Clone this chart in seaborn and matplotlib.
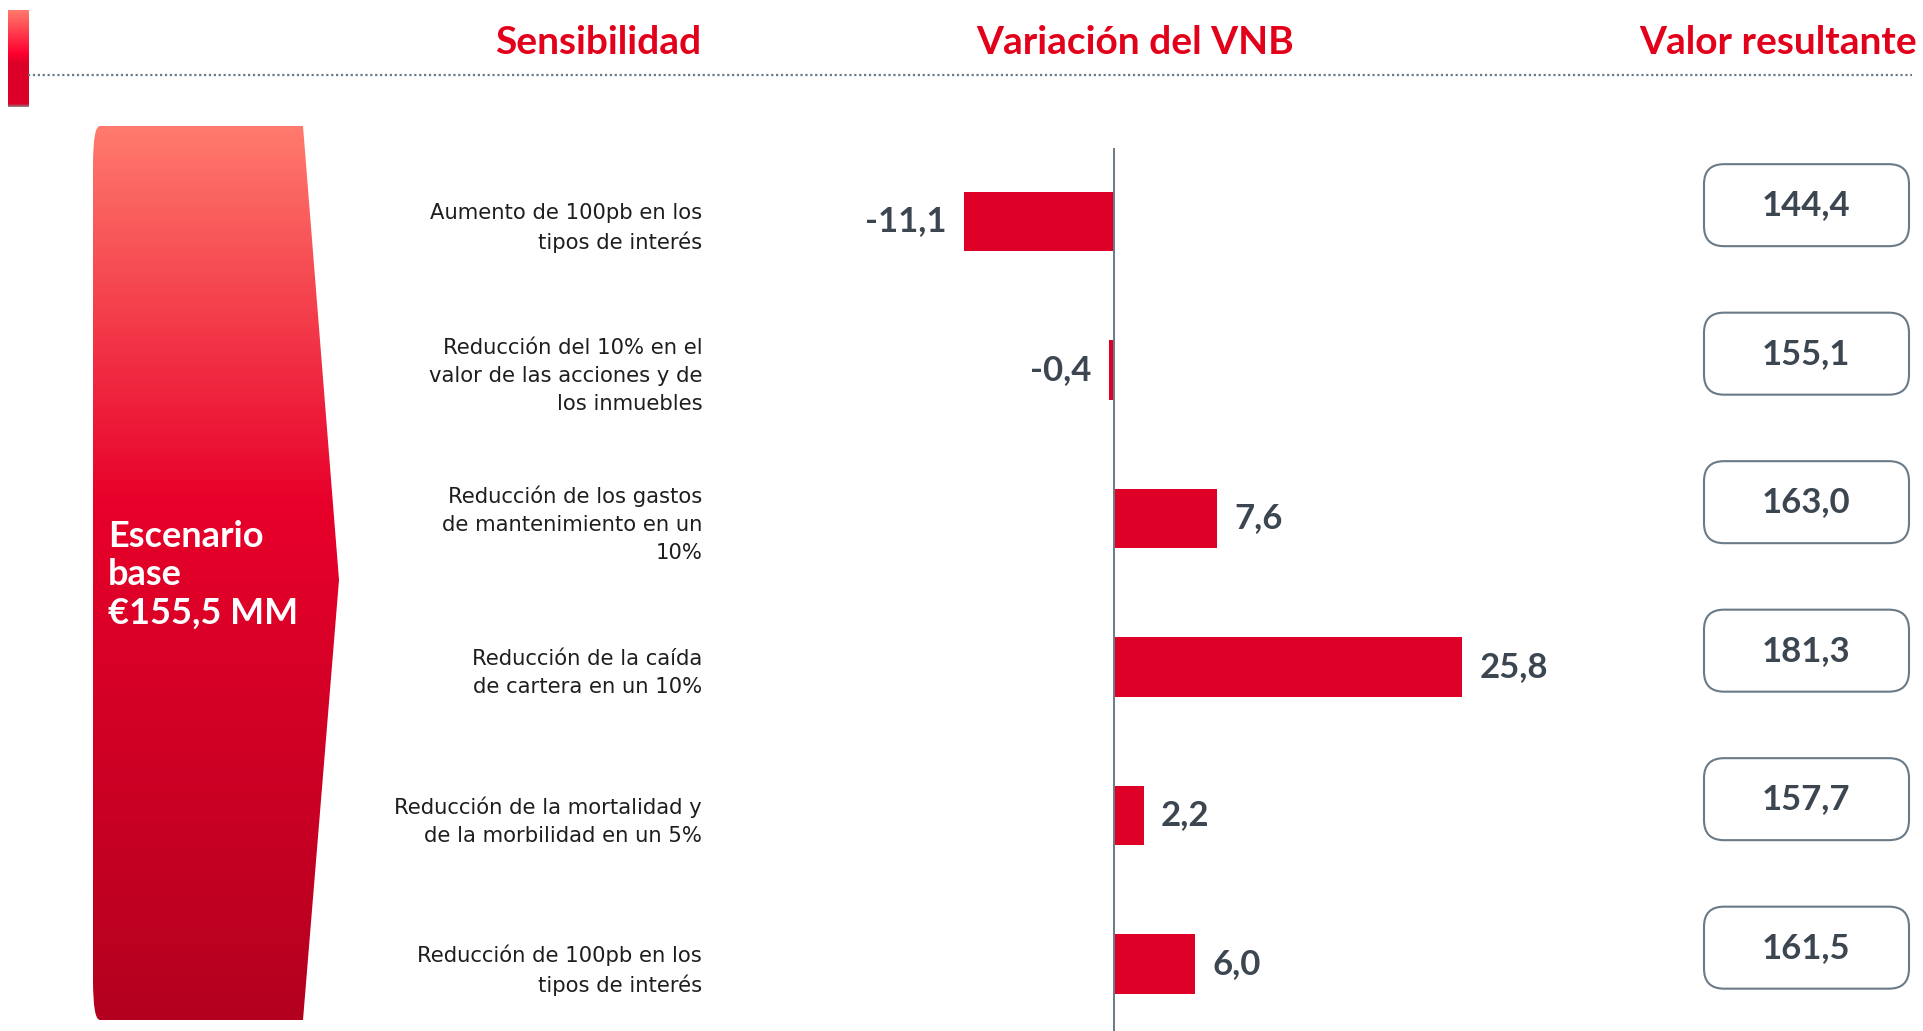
import matplotlib
matplotlib.use("Agg")
import numpy as np
import pandas as pd
import matplotlib.pyplot as plt
import seaborn as sns
from matplotlib.colors import LinearSegmentedColormap
from matplotlib.patches import FancyBboxPatch, PathPatch
from matplotlib.path import Path

# datos
categorias = [
    "Aumento de 100pb en los\ntipos de interés",
    "Reducción del 10% en el\nvalor de las acciones y de\nlos inmuebles",
    "Reducción de los gastos\nde mantenimiento en un\n10%",
    "Reducción de la caída\nde cartera en un 10%",
    "Reducción de la mortalidad y\nde la morbilidad en un 5%",
    "Reducción de 100pb en los\ntipos de interés",
]
variacion = [-11.1, -0.4, 7.6, 25.8, 2.2, 6.0]
valor_resultante = [144.4, 155.1, 163.0, 181.3, 157.7, 161.5]
escenario_base = 155.5
cabeceras = ["Sensibilidad", "Variación del VNB", "Valor resultante"]

df = pd.DataFrame({"cat": categorias, "var": variacion})

def fmt(v):
    return f"{v:.1f}".replace(".", ",")

sns.set_style("white")
plt.rcParams["font.family"] = ["DejaVu Sans"]

ROJO = "#E2001A"
BARRA = "#DE0026"
GRIS = "#3C4650"
LINEA = "#6A7A87"

W, H = 1923, 1031
fig = plt.figure(figsize=(W / 100, H / 100), dpi=100)

# capa de fondo en pixeles
bg = fig.add_axes([0, 0, 1, 1])
bg.set_axis_off()
bg.set_zorder(0)

cmap = LinearSegmentedColormap.from_list(
    "rojo", [(0, "#FF7A6C"), (0.42, "#E8002A"), (1, "#B4001F")])
grad = np.linspace(0, 1, 256).reshape(-1, 1)

# flecha grande "Escenario base"
verts = [(100, 126), (303, 126), (339, 580), (303, 1020), (100, 1020),
         (93, 1020), (93, 980), (93, 165), (93, 126), (100, 126)]
codes = [Path.MOVETO, Path.LINETO, Path.LINETO, Path.LINETO, Path.LINETO,
         Path.CURVE3, Path.CURVE3, Path.LINETO, Path.CURVE3, Path.CURVE3]
shape = PathPatch(Path(verts, codes), facecolor="none", edgecolor="none",
                  transform=bg.transData)
bg.add_patch(shape)
im = bg.imshow(grad, cmap=cmap, extent=[90, 342, 1020, 126], aspect="auto",
               origin="upper", interpolation="bilinear")
im.set_clip_path(shape)

# barrita superior izquierda
cmap2 = LinearSegmentedColormap.from_list(
    "rojo2", [(0, "#FF7A6C"), (0.45, "#FF0030"), (0.55, "#DC0028"),
              (0.97, "#DC0028"), (1, "#8A8A8A")])
bg.imshow(grad, cmap=cmap2, extent=[8, 29, 107, 10], aspect="auto",
          origin="upper", interpolation="bilinear")

bg.set_xlim(0, W)
bg.set_ylim(H, 0)

# linea punteada y cabeceras
bg.plot([28, 1912], [75, 75], color=LINEA, lw=1.6, ls=(0, (1, 1.2)))
for txt, x, ha in zip(cabeceras, [701, 1135, 1917], ["right", "center", "right"]):
    bg.text(x, 42, txt, ha=ha, va="center", color=ROJO,
            fontsize=28, fontweight="bold", family="Lato")

lineas_base = ["Escenario", "base", f"€{fmt(escenario_base)} MM"]
for txt, yb in zip(lineas_base, [547, 585, 624]):
    bg.text(108, yb, txt, ha="left", va="baseline", color="white",
            fontsize=26, fontweight="bold", family="Lato")

# grafico de barras
zero_px, px_unit = 1114, 13.5
left_px, right_px, top_px = 730, 1700, 148
ax = fig.add_axes([left_px / W, 0, (right_px - left_px) / W, (H - top_px) / H])
ax.set_zorder(1)
ax.patch.set_alpha(0)

sns.barplot(data=df, x="var", y="cat", orient="h", color=BARRA,
            saturation=1, width=0.4, linewidth=0, ax=ax)

ax.set_xlim((left_px - zero_px) / px_unit, (right_px - zero_px) / px_unit)
row0, row_px = 221.5, 148.5
ax.set_ylim((H - row0) / row_px, (top_px - row0) / row_px)
ax.axvline(0, color=LINEA, lw=1.4, zorder=3)

for s in ax.spines.values():
    s.set_visible(False)
ax.set_xticks([])
ax.set_xlabel("")
ax.set_ylabel("")
ax.tick_params(axis="y", length=0, pad=20)
for lab in ax.get_yticklabels():
    lab.set_fontsize(15.2)
    lab.set_color("#1E1E1E")
    lab.set_linespacing(1.5)

for i, v in enumerate(variacion):
    off = 12.5 if v >= 0 else -12.5
    ax.annotate(fmt(v), (v, i), xytext=(off, 0), textcoords="offset points",
                ha="left" if v >= 0 else "right", va="center", color=GRIS,
                fontsize=25, fontweight="bold", family="Lato")

# cajas con el valor resultante
for i, v in enumerate(valor_resultante):
    _, yd = ax.transData.transform((0, i - 0.11))
    yc = H - yd
    box = FancyBboxPatch((1724, yc - 21), 165, 42,
                         boxstyle="round,pad=20,rounding_size=20",
                         facecolor="white", edgecolor=LINEA, lw=1.5,
                         transform=bg.transData)
    bg.add_patch(box)
    bg.text(1806, yc, fmt(v), ha="center", va="center", color=GRIS,
            fontsize=25, fontweight="bold", family="Lato")

fig.savefig("out.png", dpi=100)
